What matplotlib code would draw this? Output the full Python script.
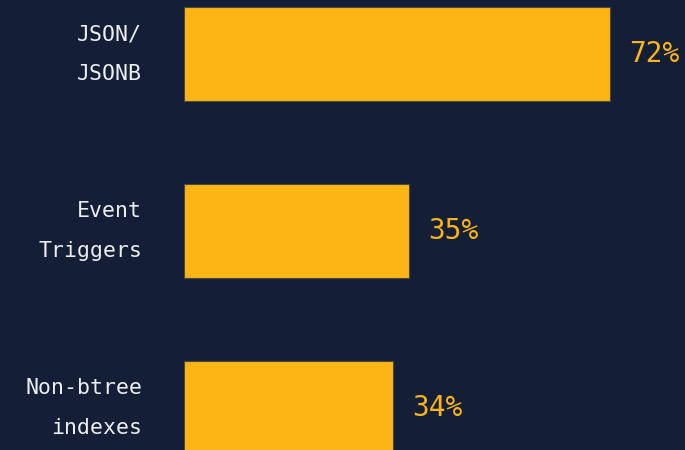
import matplotlib
matplotlib.use('Agg')
import matplotlib.pyplot as plt

# data
categories = ['JSON/\nJSONB', 'Event\nTriggers', 'Non-btree\nindexes']
values = [72.0, 38.0, 35.3]          # bar lengths as drawn
pct_labels = ['72%', '35%', '34%']   # printed labels

bg = '#141f37'
bar_color = '#fdb515'
text_color = '#eceef2'

W, H = 685, 450
fig = plt.figure(figsize=(W / 100, H / 100), dpi=100, facecolor=bg)

left_px = 184
ax = fig.add_axes([left_px / W, 0, 1 - left_px / W, 1])
ax.set_facecolor(bg)

px_per_unit = 426 / 72.0
ax.set_xlim(0, (W - left_px) / px_per_unit)

spacing = 177.0
top = -54.0 / spacing
ax.set_ylim(top + H / spacing, top)

pos = list(range(len(categories)))
ax.barh(pos, values, height=94 / spacing, color=bar_color,
        edgecolor='#4d4a3c', linewidth=0.8)

for p, v, lab, cat in zip(pos, values, pct_labels, categories):
    ax.annotate(lab, xy=(v, p), xytext=(14, 0), textcoords='offset points',
                ha='left', va='center', color=bar_color,
                fontsize=20, family='DejaVu Sans Mono')
    ax.annotate(cat, xy=(0, p), xytext=(-30, 0), textcoords='offset points',
                ha='right', va='center', color=text_color,
                fontsize=15.5, family='DejaVu Sans Mono', linespacing=2.2,
                annotation_clip=False)

ax.set_xticks([])
ax.set_yticks([])
for s in ax.spines.values():
    s.set_visible(False)

fig.savefig('out.png', dpi=100, facecolor=bg)
